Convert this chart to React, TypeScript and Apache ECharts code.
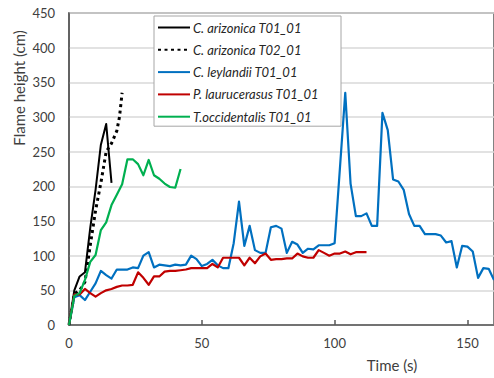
import React, { useEffect, useRef } from "react";
import * as echarts from "echarts";

const seriesNames = [
  "C. arizonica T01_01",
  "C. arizonica T02_01",
  "C. leylandii T01_01",
  "P. laurucerasus T01_01",
  "T.occidentalis T01_01",
];

const ariz1Time = [0, 2, 4, 6, 8, 10, 12, 14, 16];
const ariz1Height = [0, 50, 70, 76, 140, 195, 260, 290, 205];

const ariz2Time = [0, 2, 4, 6, 8, 10, 12, 14, 16, 18, 19, 20];
const ariz2Height = [0, 45, 50, 62, 115, 165, 205, 250, 262, 280, 300, 335];

const leyTime = [
  0, 2, 4, 6, 8, 10, 12, 14, 16, 18, 20, 22, 24, 26, 28, 30, 32, 34, 36, 38, 40,
  42, 44, 46, 48, 50, 52, 54, 56, 58, 60, 62, 64, 66, 68, 70, 72, 74, 76, 78, 80,
  82, 84, 86, 88, 90, 92, 94, 96, 98, 100, 104, 106, 108, 110, 112, 114, 116,
  118, 120, 122, 124, 126, 128, 130, 132, 134, 136, 138, 140, 142, 144, 146, 148,
  150, 152, 154, 156, 158, 160,
];
const leyHeight = [
  0, 40, 43, 36, 48, 60, 78, 72, 67, 80, 80, 80, 83, 82, 100, 105, 83, 87, 86,
  85, 87, 86, 87, 100, 95, 85, 88, 94, 86, 82, 82, 118, 178, 114, 143, 108, 104,
  104, 141, 143, 139, 104, 120, 116, 104, 110, 109, 115, 115, 115, 118, 335, 204,
  157, 157, 161, 143, 143, 306, 281, 210, 207, 195, 160, 143, 143, 131, 131, 131,
  129, 119, 121, 83, 114, 113, 106, 68, 82, 81, 65,
];

const lauTime = [
  0, 2, 4, 6, 8, 10, 12, 14, 16, 18, 20, 22, 24, 26, 28, 30, 32, 34, 36, 38, 40,
  42, 44, 46, 48, 50, 52, 54, 56, 58, 60, 62, 64, 66, 68, 70, 72, 74, 76, 78, 80,
  82, 84, 86, 88, 90, 92, 94, 96, 98, 100, 102, 104, 106, 108, 110, 112,
];
const lauHeight = [
  0, 44, 44, 52, 46, 41, 46, 50, 52, 55, 57, 57, 58, 76, 68, 58, 70, 70, 77, 78,
  78, 79, 80, 82, 82, 82, 82, 88, 83, 97, 97, 97, 97, 86, 97, 89, 99, 103, 94, 95,
  95, 96, 96, 103, 99, 97, 97, 108, 104, 100, 103, 103, 106, 102, 105, 105, 105,
];

const occTime = [
  0, 2, 4, 6, 8, 10, 12, 14, 16, 18, 20, 22, 24, 26, 28, 30, 32, 34, 36, 38, 40,
  42,
];
const occHeight = [
  0, 42, 46, 65, 91, 101, 137, 148, 173, 188, 203, 239, 239, 232, 216, 238, 216,
  211, 204, 199, 198, 225,
];

const yTicks = [0, 50, 100, 150, 200, 250, 300, 350, 400, 450];
const xTickLabels = ["0", "50", "100", "150"];

const FONT = "Lato";

function pairs(t: number[], v: number[]) {
  return t.map((x, i) => [x, v[i]]);
}

export default function App() {
  const ref = useRef<HTMLDivElement>(null);
  useEffect(() => {
    if (!ref.current) return;
    const chart = echarts.init(ref.current, null, { renderer: "svg" });
    const lineSeries = (
      name: string,
      data: number[][],
      color: string,
      width: number,
      type: any = "solid"
    ) => ({
      name,
      type: "line",
      data,
      symbol: "none",
      showSymbol: false,
      color,
      lineStyle: { color, width, type, cap: "butt", join: "round" },
      itemStyle: { color },
      z: 3,
    });
    chart.setOption({
      animation: false,
      textStyle: { fontFamily: FONT },
      grid: {
        left: 69,
        top: 13,
        right: -2,
        bottom: 53,
        show: true,
        borderColor: "#595959",
        borderWidth: 1.5,
        backgroundColor: "transparent",
      },
      legend: {
        orient: "vertical",
        left: 154,
        top: 16,
        itemWidth: 32,
        itemHeight: 14,
        itemGap: 9.3,
        padding: [5, 22, 3, 3],
        backgroundColor: "#ffffff",
        borderColor: "#a6a6a6",
        borderWidth: 1,
        borderRadius: 0,
        data: seriesNames,
        itemStyle: { color: "transparent", borderWidth: 0, opacity: 0 },
        textStyle: {
          fontFamily: FONT,
          fontStyle: "italic",
          fontSize: 13,
          color: "#262626",
          padding: [0, 0, 0, -2],
        },
      },
      xAxis: {
        type: "value",
        min: 0,
        max: 160,
        interval: 50,
        axisLine: { show: true, lineStyle: { color: "#595959", width: 1.5 } },
        axisTick: {
          show: true,
          inside: true,
          length: 5,
          lineStyle: { color: "#595959", width: 1.5 },
        },
        splitLine: { show: false },
        axisLabel: {
          fontFamily: FONT,
          fontSize: 13,
          color: "#404040",
          margin: 11,
          showMaxLabel: false,
          formatter: (v: number) => {
            const s = String(v);
            return xTickLabels.includes(s) ? s : "";
          },
        },
      },
      yAxis: {
        type: "value",
        min: 0,
        max: 450,
        interval: 50,
        axisLine: { show: true, lineStyle: { color: "#595959", width: 1.5 } },
        axisTick: { show: false },
        splitLine: { show: true, lineStyle: { color: "#d9d9d9", width: 1.5 } },
        axisLabel: {
          fontFamily: FONT,
          fontSize: 13,
          color: "#404040",
          margin: 14,
          formatter: (v: number) => (yTicks.includes(v) ? String(v) : ""),
        },
      },
      graphic: [
        {
          type: "text",
          x: 19,
          y: 88,
          rotation: Math.PI / 2,
          style: {
            text: "Flame height (cm)",
            fontFamily: FONT,
            fontSize: 15,
            fill: "#404040",
            align: "center",
            verticalAlign: "middle",
          },
        },
        {
          type: "text",
          x: 392,
          y: 365,
          style: {
            text: "Time (s)",
            fontFamily: FONT,
            fontSize: 15,
            fill: "#404040",
            align: "center",
            verticalAlign: "middle",
          },
        },
      ],
      series: [
        lineSeries(seriesNames[0], pairs(ariz1Time, ariz1Height), "#000000", 2),
        lineSeries(seriesNames[1], pairs(ariz2Time, ariz2Height), "#000000", 3, [3, 3.5]),
        lineSeries(seriesNames[2], pairs(leyTime, leyHeight), "#0070C0", 2.2),
        lineSeries(seriesNames[3], pairs(lauTime, lauHeight), "#C00000", 2.2),
        lineSeries(seriesNames[4], pairs(occTime, occHeight), "#00B050", 2.2),
      ],
    });
    return () => chart.dispose();
  }, []);
  return <div ref={ref} style={{ width: 494, height: 378, position: "absolute", left: 0, top: 0 }} />;
}
